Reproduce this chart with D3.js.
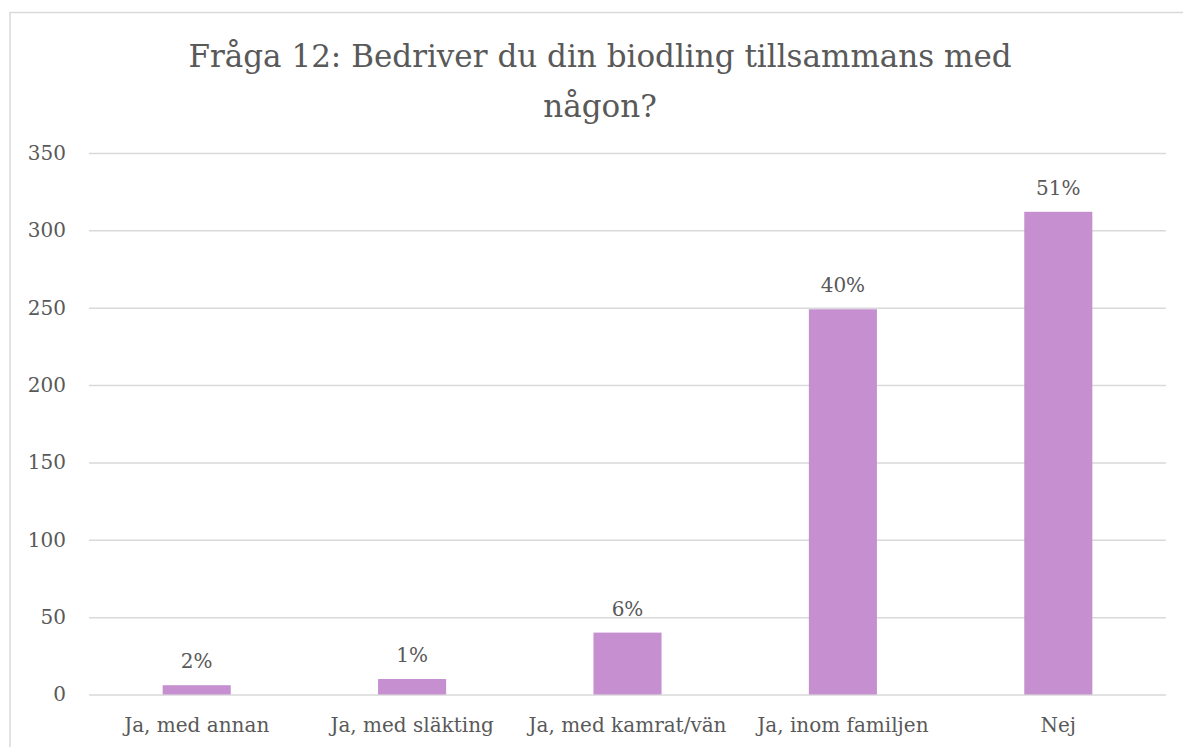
<!DOCTYPE html>
<html>
<head>
<meta charset="utf-8">
<script src="https://cdn.jsdelivr.net/npm/d3@7"></script>
<style>
  body { margin: 0; background: #fff; }
  text { font-family: "DejaVu Serif", "Liberation Serif", serif; fill: #595959; }
</style>
</head>
<body>
<div></div>
<script>
var categories = ["Ja, med annan", "Ja, med släkting", "Ja, med kamrat/vän", "Ja, inom familjen", "Nej"],
    counts = [6, 10, 40, 249, 312],
    percentLabels = ["2%", "1%", "6%", "40%", "51%"],
    yTicks = [0, 50, 100, 150, 200, 250, 300, 350],
    titleLines = ["Fråga 12: Bedriver du din biodling tillsammans med", "någon?"];

var width = 1183,
    height = 747;

var margin = { top: 153, right: 17, bottom: 52.5, left: 89 };

var svg = d3.select("div")
    .append("svg")
    .attr("width", width)
    .attr("height", height);

// chart frame
svg.append("rect")
    .attr("x", 10)
    .attr("y", 12.5)
    .attr("width", width + 20)
    .attr("height", height + 20)
    .attr("fill", "#fff")
    .attr("stroke", "#d9d9d9")
    .attr("stroke-width", 1.5);

var x = d3.scaleBand()
    .domain(categories)
    .range([margin.left, width - margin.right])
    .paddingInner(0.684)
    .paddingOuter(0.342);

var y = d3.scaleLinear()
    .domain([0, 350])
    .range([height - margin.bottom, margin.top]);

// gridlines + y labels
var yAxis = svg.append("g")
    .attr("transform", "translate(" + margin.left + ",0)")
    .call(d3.axisLeft(y).tickValues(yTicks).tickSize(-(width - margin.left - margin.right)).tickPadding(23));

yAxis.select(".domain").remove();
yAxis.selectAll(".tick line")
    .attr("stroke", "#d9d9d9")
    .attr("stroke-width", 1.5);
yAxis.selectAll(".tick text")
    .style("font-size", "20px")
    .attr("fill", "#595959");

// bars
svg.selectAll(".bar")
    .data(counts)
    .enter()
    .append("rect")
    .attr("class", "bar")
    .attr("x", function (d, i) { return x(categories[i]); })
    .attr("y", function (d) { return y(d); })
    .attr("width", x.bandwidth())
    .attr("height", function (d) { return y(0) - y(d); })
    .attr("fill", "#c58fd0");

// value labels
svg.selectAll(".pct")
    .data(counts)
    .enter()
    .append("text")
    .attr("class", "pct")
    .attr("x", function (d, i) { return x(categories[i]) + x.bandwidth() / 2; })
    .attr("y", function (d) { return y(d) - 17; })
    .attr("text-anchor", "middle")
    .style("font-size", "20px")
    .attr("fill", "#404040")
    .text(function (d, i) { return percentLabels[i]; });

// x axis
var xAxis = svg.append("g")
    .attr("transform", "translate(0," + (height - margin.bottom) + ")")
    .call(d3.axisBottom(x).tickSize(0).tickPadding(23));

xAxis.select(".domain").remove();
xAxis.selectAll(".tick text")
    .attr("dy", "0.71em")
    .attr("y", 23)
    .style("font-size", "20px")
    .attr("fill", "#595959");

// title
svg.selectAll(".title")
    .data(titleLines)
    .enter()
    .append("text")
    .attr("class", "title")
    .attr("x", 600)
    .attr("y", function (d, i) { return 67 + i * 50; })
    .attr("text-anchor", "middle")
    .style("font-size", "31px")
    .text(String);
</script>
</body>
</html>
